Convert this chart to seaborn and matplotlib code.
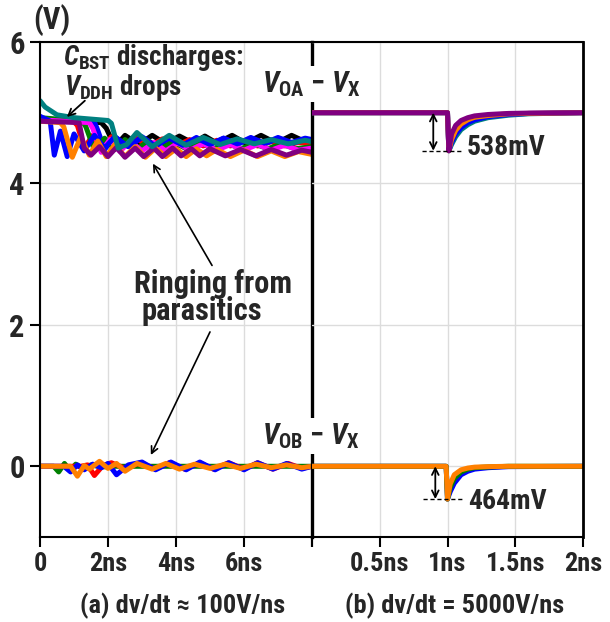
import matplotlib
matplotlib.use("Agg")
import matplotlib.pyplot as plt
from matplotlib import font_manager as fm
import numpy as np
import pandas as pd
import seaborn as sns

# ---------------- data ----------------
# panel (a): upper group (time ns, volts)
teal_t = [0, 0.15, 0.5, 1.0, 1.5, 2.0, 2.1, 2.3, 2.55, 2.85, 3.3, 3.8, 4.3, 4.8, 5.3, 5.8, 6.3, 6.8, 7.3, 7.8, 8.0]
teal_v = [5.17, 5.08, 4.97, 4.93, 4.91, 4.89, 4.85, 4.50, 4.55, 4.72, 4.52, 4.68, 4.54, 4.65, 4.55, 4.63, 4.56, 4.62, 4.56, 4.61, 4.59]
blue_t = [0, 0.3, 0.42, 0.6, 0.8, 1.0, 1.3, 1.6, 1.9, 2.2, 2.6, 3.0, 3.4, 3.8, 4.2, 4.6, 5.0, 5.4, 5.8, 6.2, 6.6, 7.0, 7.4, 7.8, 8.0]
blue_v = [4.95, 4.88, 4.40, 4.74, 4.38, 4.70, 4.46, 4.68, 4.50, 4.66, 4.52, 4.65, 4.53, 4.64, 4.54, 4.64, 4.55, 4.64, 4.56, 4.65, 4.57, 4.65, 4.58, 4.64, 4.62]
blue2_t = [0, 1.6, 1.7, 1.9, 2.2, 2.6, 3.0, 3.4, 3.8, 4.2, 4.6, 5.0, 5.4, 5.8, 6.2, 6.6, 7.0, 7.4, 7.8, 8.0]
blue2_v = [4.91, 4.87, 4.75, 4.48, 4.66, 4.52, 4.66, 4.53, 4.65, 4.54, 4.65, 4.55, 4.64, 4.55, 4.64, 4.56, 4.63, 4.56, 4.63, 4.60]
orange_t = [0, 0.6, 0.7, 0.95, 1.2, 1.45, 1.7, 1.95, 2.2, 2.5, 2.8, 3.1, 3.4, 3.7, 4.0, 4.3, 4.6, 4.9, 5.2, 5.6, 6.0, 6.4, 6.8, 7.2, 7.6, 8.0]
orange_v = [4.88, 4.86, 4.80, 4.37, 4.66, 4.40, 4.60, 4.38, 4.55, 4.38, 4.52, 4.37, 4.50, 4.38, 4.49, 4.38, 4.49, 4.39, 4.48, 4.38, 4.47, 4.38, 4.46, 4.38, 4.45, 4.41]
red_t = [0, 1.0, 1.1, 1.3, 1.55, 1.8, 2.1, 2.4, 2.8, 3.2, 3.6, 4.0, 4.4, 4.8, 5.2, 5.6, 6.0, 6.4, 6.8, 7.2, 7.6, 8.0]
red_v = [4.92, 4.87, 4.82, 4.50, 4.68, 4.48, 4.66, 4.52, 4.65, 4.52, 4.63, 4.53, 4.62, 4.53, 4.61, 4.53, 4.60, 4.53, 4.59, 4.53, 4.58, 4.56]
magenta_t = [0, 1.45, 1.55, 1.8, 2.05, 2.35, 2.65, 3.0, 3.35, 3.7, 4.05, 4.4, 4.8, 5.2, 5.6, 6.0, 6.4, 6.8, 7.2, 7.6, 8.0]
magenta_v = [4.90, 4.86, 4.78, 4.44, 4.62, 4.45, 4.60, 4.46, 4.58, 4.46, 4.57, 4.47, 4.56, 4.47, 4.55, 4.47, 4.55, 4.47, 4.54, 4.47, 4.50]
green_t = [0, 1.25, 1.35, 1.6, 1.9, 2.2, 2.5, 2.85, 3.2, 3.55, 3.9, 4.3, 4.7, 5.1, 5.5, 5.9, 6.3, 6.7, 7.1, 7.5, 8.0]
green_v = [4.93, 4.88, 4.80, 4.47, 4.64, 4.48, 4.62, 4.49, 4.60, 4.49, 4.59, 4.49, 4.58, 4.49, 4.57, 4.49, 4.56, 4.49, 4.56, 4.49, 4.52]
black_t = [0, 1.8, 1.95, 2.2, 2.5, 2.9, 3.3, 3.7, 4.1, 4.5, 4.85, 5.2, 5.65, 6.05, 6.5, 6.95, 7.4, 7.85, 8.0]
black_v = [4.90, 4.86, 4.78, 4.52, 4.68, 4.55, 4.68, 4.56, 4.67, 4.57, 4.67, 4.57, 4.68, 4.57, 4.68, 4.57, 4.68, 4.58, 4.60]
purple_t = [0, 1.15, 1.3, 1.5, 1.75, 2.0, 2.25, 2.5, 2.8, 3.05, 3.35, 3.6, 3.9, 4.15, 4.45, 4.7, 5.0, 5.45, 5.9, 6.35, 6.8, 7.25, 7.7, 8.0]
purple_v = [4.88, 4.86, 4.50, 4.40, 4.52, 4.38, 4.51, 4.37, 4.50, 4.38, 4.50, 4.38, 4.50, 4.39, 4.49, 4.39, 4.49, 4.39, 4.48, 4.39, 4.48, 4.40, 4.47, 4.44]

# panel (a): lower group, V_OB - V_X
lo_green_t = [0, 0.4, 0.55, 0.72, 0.88, 1.05, 1.25, 1.5, 1.8, 2.2, 3.0, 8.0]
lo_green_v = [0, 0.0, -0.08, 0.04, -0.06, 0.03, -0.03, 0.02, -0.01, 0.0, 0.0, 0.0]
lo_blue_t = [0, 0.7, 0.9, 1.1, 1.3, 1.55, 1.8, 2.0, 2.25, 2.6, 3.0, 3.4, 3.85, 4.3, 4.7, 5.15, 5.55, 6.0, 6.4, 6.85, 7.25, 7.7, 8.0]
lo_blue_v = [0, 0.0, -0.08, 0.02, -0.05, 0.03, -0.02, 0.04, -0.12, 0.02, 0.06, -0.05, 0.06, -0.05, 0.06, -0.05, 0.05, -0.05, 0.05, -0.04, 0.04, -0.04, 0.0]
lo_red_t = [0, 1.2, 1.4, 1.6, 1.85, 2.1, 2.5, 2.95, 3.4, 3.8, 4.25, 4.7, 5.1, 5.55, 6.0, 6.4, 6.85, 7.3, 7.7, 8.0]
lo_red_v = [0, 0.0, 0.02, -0.13, 0.01, 0.05, -0.03, 0.05, -0.04, 0.05, -0.04, 0.05, -0.04, 0.05, -0.04, 0.05, -0.04, 0.04, -0.03, 0.0]
lo_orange_t = [0, 0.9, 1.1, 1.3, 1.45, 1.75, 2.0, 2.25, 2.5, 2.85, 3.3, 3.7, 4.1, 4.55, 5.0, 5.45, 5.9, 6.35, 6.8, 7.25, 7.7, 8.0]
lo_orange_v = [0, 0.0, -0.14, 0.01, -0.04, 0.07, -0.03, 0.04, -0.07, 0.04, -0.04, 0.04, -0.04, 0.03, -0.03, 0.03, -0.03, 0.03, -0.02, 0.02, -0.02, 0.0]

# panel (b): upper group, V_OA - V_X
hb_t = [0, 1.0, 1.01, 1.03, 1.06, 1.1, 1.15, 1.2, 1.3, 1.45, 1.6, 2.0]
hb_teal_v = [5.0, 5.0, 4.462, 4.55, 4.66, 4.76, 4.83, 4.88, 4.93, 4.965, 4.985, 5.0]
hb_blue_v = [5.0, 5.0, 4.462, 4.58, 4.70, 4.79, 4.86, 4.90, 4.945, 4.975, 4.99, 5.0]
hb_orange_v = [5.0, 5.0, 4.462, 4.62, 4.75, 4.84, 4.90, 4.935, 4.96, 4.985, 4.99, 5.0]
hb_purple_v = [5.0, 5.0, 4.462, 4.70, 4.82, 4.89, 4.93, 4.955, 4.975, 4.99, 4.995, 5.0]

# panel (b): lower group, V_OB - V_X
lb_t = [0, 0.99, 1.0, 1.02, 1.05, 1.1, 1.15, 1.2, 1.3, 1.45, 2.0]
lb_blue_v = [0, 0, -0.464, -0.36, -0.24, -0.12, -0.07, -0.04, -0.02, -0.005, 0]
lb_green_v = [0, 0, -0.464, -0.30, -0.17, -0.08, -0.04, -0.02, -0.01, 0, 0]
lb_orange_v = [0, 0, -0.464, -0.25, -0.12, -0.05, -0.025, -0.012, -0.005, 0, 0]

dip_oa = 0.538   # V
dip_ob = 0.464   # V
level_oa = 5.0

xt_a = [0, 2, 4, 6, 8]
xl_a = ["0", "2ns", "4ns", "6ns", ""]
xt_b = [0, 0.5, 1, 1.5, 2]
xl_b = ["", "0.5ns", "1ns", "1.5ns", "2ns"]
yt = [0, 2, 4, 6]
yl = ["0", "2", "4", "6"]

COL = {"teal": "#008080", "blue": "#0000FF", "blue2": "#0000FF", "orange": "#FF8000",
       "red": "#FF0000", "magenta": "#FF00FF", "green": "#008000", "black": "#000000",
       "purple": "#800080"}


def long(groups):
    rows = []
    for name, t, v in groups:
        for i, (a, b) in enumerate(zip(t, v)):
            rows.append((name, i, a, b))
    return pd.DataFrame(rows, columns=["trace", "i", "t", "v"])


top_a = long([("black", black_t, black_v), ("red", red_t, red_v), ("blue2", blue2_t, blue2_v),
              ("green", green_t, green_v), ("magenta", magenta_t, magenta_v),
              ("blue", blue_t, blue_v), ("orange", orange_t, orange_v),
              ("purple", purple_t, purple_v), ("teal", teal_t, teal_v)])
bot_a = long([("green", lo_green_t, lo_green_v), ("red", lo_red_t, lo_red_v),
              ("blue", lo_blue_t, lo_blue_v), ("orange", lo_orange_t, lo_orange_v)])
top_b = long([("teal", hb_t, hb_teal_v), ("blue", hb_t, hb_blue_v),
              ("orange", hb_t, hb_orange_v), ("purple", hb_t, hb_purple_v)])
bot_b = long([("blue", lb_t, lb_blue_v), ("green", lb_t, lb_green_v),
              ("orange", lb_t, lb_orange_v)])

# ---------------- font choice: a narrow bold sans ----------------
def pick_family():
    cands = ["Liberation Sans Narrow", "Arial Narrow", "Roboto Condensed", "PT Sans Narrow",
             "Fira Sans Condensed", "Asap Condensed", "Encode Sans Condensed"]
    for c in cands:
        bold = [f for f in fm.fontManager.ttflist
                if f.name == c and f.weight in (700, "bold") and "[" not in f.fname]
        if bold:
            return c
    return "Liberation Sans"


FAM = pick_family()
sns.set_theme(style="ticks")
plt.rcParams["font.family"] = [FAM, "Liberation Sans", "DejaVu Sans"]
plt.rcParams["font.weight"] = "bold"
plt.rcParams["mathtext.fontset"] = "custom"
plt.rcParams["mathtext.rm"] = f"{FAM}:bold"
plt.rcParams["mathtext.it"] = f"{FAM}:italic:bold"
plt.rcParams["mathtext.bf"] = f"{FAM}:bold"
plt.rcParams["mathtext.default"] = "rm"

W, H = 610, 622
fig = plt.figure(figsize=(W / 100, H / 100), dpi=100)
L, R, M = 40 / W, 583 / W, 312 / W
B, T = 1 - 537 / H, 1 - 42 / H
ax1 = fig.add_axes([L, B, M - L, T - B])
ax2 = fig.add_axes([M, B, R - M, T - B])
ax2.set_facecolor("none")

LW = 3.6
for ax, df in [(ax1, top_a), (ax1, bot_a), (ax2, top_b), (ax2, bot_b)]:
    order = list(dict.fromkeys(df["trace"]))
    for name in order:
        sub = df[df["trace"] == name]
        sns.lineplot(data=sub, x="t", y="v", color=COL[name], sort=False,
                     estimator=None, lw=LW, ax=ax, legend=False,
                     solid_joinstyle="round", solid_capstyle="round")

FS = 19
for ax in (ax1, ax2):
    ax.set_ylim(-1, 6)
    ax.set_xlabel("")
    ax.set_ylabel("")
    ax.grid(True, color="#dcdcdc", lw=1.0)
    ax.set_axisbelow(True)
    for s in ax.spines.values():
        s.set_color("black")
        s.set_linewidth(1.5)
    ax.set_yticks(yt)

ax1.set_xlim(0, 8)
ax2.set_xlim(0, 2)
ax1.set_xticks(xt_a)
ax1.set_xticklabels(xl_a, fontsize=FS, fontweight="bold")
ax2.set_xticks(xt_b)
ax2.set_xticklabels(xl_b, fontsize=FS, fontweight="bold")
ax1.set_yticklabels(yl, fontsize=22, fontweight="bold")
ax2.set_yticklabels([])
ax2.tick_params(axis="y", length=0)
ax1.tick_params(axis="both", length=7, width=1.5, color="black", pad=4)
ax2.tick_params(axis="x", length=7, width=1.5, color="black", pad=4)
ax1.spines["right"].set_linewidth(2.4)
ax2.spines["left"].set_visible(False)
ax2.spines["right"].set_linewidth(2.0)
# no grey grid line on top of the shared boundary
ax2.xaxis.get_gridlines()[0].set_visible(False)
ax1.xaxis.get_gridlines()[-1].set_visible(False)

# ---------------- annotations ----------------
def fx(x):
    return x / W


def fy(y):
    return 1 - y / H


fig.text(fx(52), fy(20), "(V)", fontsize=22, fontweight="bold", ha="center", va="center")

ax1.text(0.68, 5.78, r"$\mathit{C}_{\mathrm{BST}}$ discharges:", fontsize=19.5,
         fontweight="bold", ha="left", va="center")
ax1.text(0.72, 5.36, r"$\mathit{V}_{\mathrm{DDH}}$ drops", fontsize=19.5,
         fontweight="bold", ha="left", va="center")
ax1.annotate("", xy=(0.79, 4.94), xytext=(1.32, 5.17),
             arrowprops=dict(arrowstyle="->", lw=1.3, color="black", shrinkA=0, shrinkB=0))

ax1.text(5.09, 2.58, "Ringing from", fontsize=22, fontweight="bold", ha="center", va="center")
ax1.text(4.76, 2.19, "parasitics", fontsize=22, fontweight="bold", ha="center", va="center")
ax1.annotate("", xy=(3.32, 4.28), xytext=(5.06, 2.84),
             arrowprops=dict(arrowstyle="->", lw=1.2, color="black", shrinkA=0, shrinkB=0))
ax1.annotate("", xy=(3.26, 0.16), xytext=(5.0, 1.90),
             arrowprops=dict(arrowstyle="->", lw=1.2, color="black", shrinkA=0, shrinkB=0))

box = dict(facecolor="white", edgecolor="none", pad=2.5)
fig.text(fx(311), fy(84), r"$\mathit{V}_{\mathrm{OA}}$ $-$ $\mathit{V}_{\mathrm{X}}$", fontsize=21,
         ha="center", va="center", bbox=box)
fig.text(fx(311), fy(436), r"$\mathit{V}_{\mathrm{OB}}$ $-$ $\mathit{V}_{\mathrm{X}}$", fontsize=21,
         ha="center", va="center", bbox=box)

# dip markers, panel (b)
lo_oa = level_oa - dip_oa
ax2.plot([0.81, 1.10], [lo_oa, lo_oa], color="black", lw=1.0, ls=(0, (3, 2)))
ax2.annotate("", xy=(0.895, lo_oa), xytext=(0.895, level_oa),
             arrowprops=dict(arrowstyle="<->", lw=1.3, color="black", shrinkA=0, shrinkB=0))
ax2.text(1.14, lo_oa + 0.05, f"{dip_oa * 1000:.0f}mV", fontsize=20, fontweight="bold",
         ha="left", va="center")
ax2.plot([0.82, 1.11], [-dip_ob, -dip_ob], color="black", lw=1.0, ls=(0, (3, 2)))
ax2.annotate("", xy=(0.91, -dip_ob), xytext=(0.91, 0),
             arrowprops=dict(arrowstyle="<->", lw=1.3, color="black", shrinkA=0, shrinkB=0))
ax2.text(1.15, -dip_ob - 0.04, f"{dip_ob * 1000:.0f}mV", fontsize=20, fontweight="bold",
         ha="left", va="center")

fig.text(fx(183), fy(606), "(a) dv/dt ≈ 100V/ns", fontsize=19, fontweight="bold",
         ha="center", va="center")
fig.text(fx(455), fy(606), "(b) dv/dt = 5000V/ns", fontsize=19, fontweight="bold",
         ha="center", va="center")

fig.savefig("out.png", dpi=100)
